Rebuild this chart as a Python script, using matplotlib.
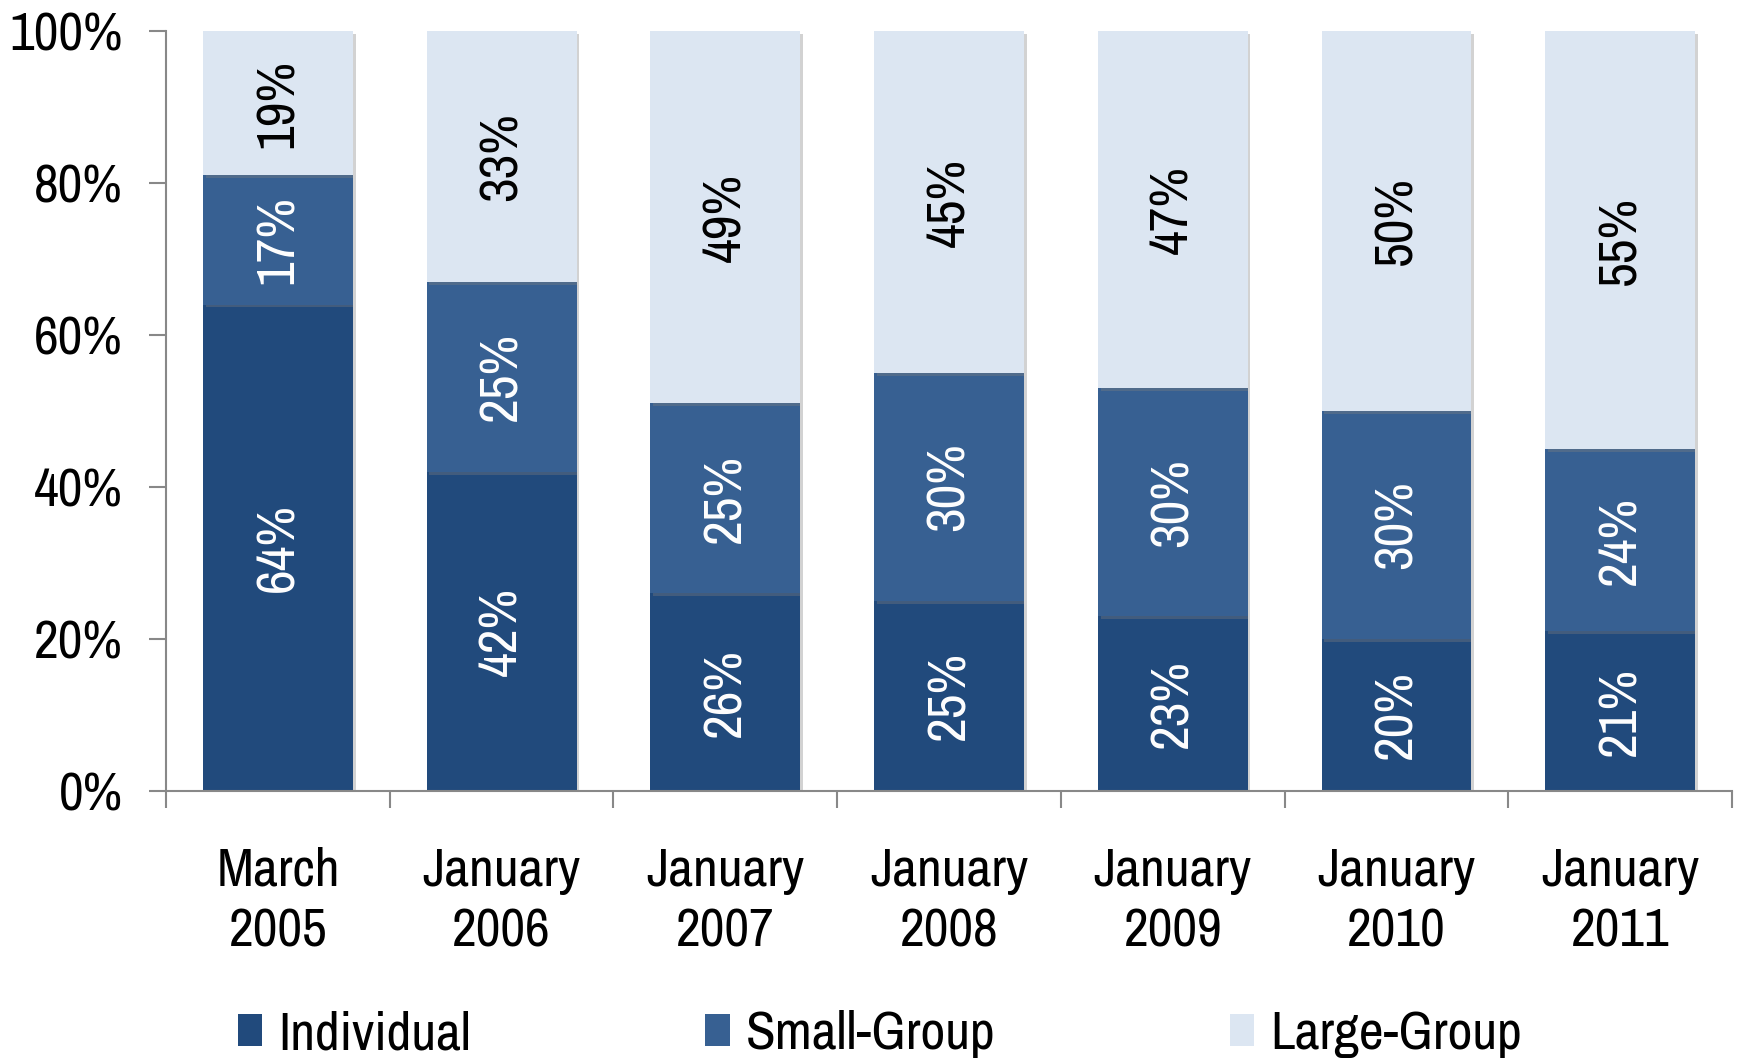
import matplotlib
matplotlib.use("Agg")
import matplotlib.pyplot as plt
import matplotlib.patheffects as pe
from matplotlib.patches import Patch
import numpy as np

plt.rcParams['font.family'] = ['Archivo Narrow', 'Liberation Sans Narrow', 'DejaVu Sans']

categories = ["March\n2005", "January\n2006", "January\n2007", "January\n2008",
              "January\n2009", "January\n2010", "January\n2011"]
individual = [64, 42, 26, 25, 23, 20, 21]
small_group = [17, 25, 25, 30, 30, 30, 24]
large_group = [19, 33, 49, 45, 47, 50, 55]

series = [("Individual", individual, "#214a7c", "white"),
          ("Small-Group", small_group, "#376092", "white"),
          ("Large-Group", large_group, "#dce6f2", "black")]

fs = 39
fig = plt.figure(figsize=(17.39, 10.63), dpi=100)
ax = fig.add_axes([0.0955, 0.2559, 0.9005, 0.7149])

x = np.arange(len(categories))
bottom = np.zeros(len(categories))
shadow = [pe.SimplePatchShadow(offset=(2, -2), shadow_rgbFace="#808080", alpha=0.35), pe.Normal()]
for name, vals, col, tcol in series:
    vals = np.array(vals, dtype=float)
    bars = ax.bar(x, vals, 0.67, bottom=bottom, color=col, label=name, zorder=2)
    for b in bars:
        b.set_path_effects(shadow)
    for xi, v, b0 in zip(x, vals, bottom):
        ax.text(xi, b0 + v / 2, f"{int(v)}%", rotation=90, ha="center", va="center",
                color=tcol, fontsize=fs, zorder=3)
    bottom += vals

ax.set_xlim(-0.5, 6.5)
ax.set_ylim(0, 100)
ax.set_yticks(range(0, 101, 20))
ax.set_yticklabels([f"{v}%" for v in range(0, 101, 20)], fontsize=fs)
ax.set_xticks(x)
ax.set_xticklabels(categories, fontsize=fs, linespacing=1.32)
ax.set_xticks(np.arange(-0.5, 7, 1), minor=True)
ax.tick_params(axis="x", which="major", length=0, pad=40)
ax.tick_params(axis="x", which="minor", length=12, width=1.5, color="#888888", direction="out")
ax.tick_params(axis="y", length=12, width=1.5, color="#888888", pad=19)

for s in ["top", "right"]:
    ax.spines[s].set_visible(False)
for s in ["left", "bottom"]:
    ax.spines[s].set_color("#888888")
    ax.spines[s].set_linewidth(1.5)

handles = [Patch(facecolor=c, label=n) for n, _, c, _ in series]
fig.legend(handles=handles, loc="center", bbox_to_anchor=(0.506, 0.027), ncol=3,
           frameon=False, fontsize=fs, handlelength=0.45, handleheight=0.55,
           handletextpad=0.3, columnspacing=4.32)

fig.savefig("out.png", dpi=100)
